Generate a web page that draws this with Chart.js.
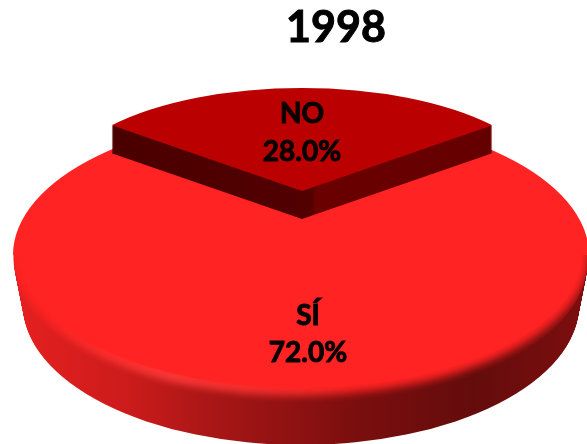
<!DOCTYPE html>
<html>
<head>
<meta charset="utf-8">
<title>1998</title>
<script src="https://cdn.jsdelivr.net/npm/chart.js@4"></script>
<style>
    html, body { margin: 0; padding: 0; background: #fff; overflow: hidden; }
    canvas { display: block; }
</style>
</head>
<body>
<canvas id="pieChart" width="587" height="444"></canvas>
<script>
// values
const chartTitle = '1998';
const categories = ['SÍ', 'NO'];
const percentages = [72.0, 28.0];

// the flattened "3D" look: where each slice sits on the page
const disc = { x: 301, y: 255, rx: 288, ry: 140, depth: 50, taper: 10 };
const wedge = { x: 302, y: 191, rx: 247, ry: 103, depth: 28 };
const labelFont = 'bold 28px Lato, sans-serif';

function drawSlice(ctx, arc, place, fill) {
    const saved = arc.options;
    arc.options = Object.assign({}, saved, { backgroundColor: fill, borderWidth: 0 });
    ctx.save();
    ctx.translate(place.x, place.y);
    ctx.scale(place.rx / arc.outerRadius, place.ry / arc.outerRadius);
    ctx.translate(-arc.x, -arc.y);
    arc.draw(ctx);
    ctx.restore();
    arc.options = saved;
}

function ellipsePath(ctx, x, y, rx, ry) {
    ctx.beginPath();
    ctx.ellipse(x, y, rx, ry, 0, 0, Math.PI * 2);
}

function drawBoldText(ctx, text, x, y, weight) {
    ctx.lineWidth = weight;
    ctx.fillText(text, x, y);
    ctx.strokeText(text, x, y);
}

function drawSliceLabel(ctx, name, value, x, y1, y2) {
    ctx.font = labelFont;
    ctx.fillStyle = '#0a0000';
    ctx.strokeStyle = '#0a0000';
    ctx.textAlign = 'center';
    ctx.textBaseline = 'middle';
    drawBoldText(ctx, name, x, y1, 1);
    drawBoldText(ctx, value.toFixed(1) + '%', x, y2, 1);
}

const pie3d = {
    id: 'pie3d',
    beforeDatasetDraw(chart) {
        const ctx = chart.ctx;
        const arcs = chart.getDatasetMeta(0).data;
        const top = '#ff2323';

        // body of the disc
        const side = ctx.createLinearGradient(13, 0, 589, 0);
        side.addColorStop(0, '#e62020');
        side.addColorStop(0.2, '#cc1b1b');
        side.addColorStop(0.35, '#a81616');
        side.addColorStop(0.6, '#7a0e0e');
        side.addColorStop(0.8, '#640c0c');
        side.addColorStop(1, '#7e0e0e');
        ctx.fillStyle = side;
        for (let d = disc.depth; d >= 4; d--) {
            ellipsePath(ctx, disc.x, disc.y + d, disc.rx - disc.taper * d / disc.depth, disc.ry);
            ctx.fill();
        }

        // soft bevel where the top face meets the body
        ctx.save();
        ctx.beginPath();
        ctx.ellipse(disc.x, disc.y, disc.rx, disc.ry, 0, 0, Math.PI * 2);
        ctx.ellipse(disc.x, disc.y + 8, disc.rx - 2, disc.ry, 0, 0, Math.PI * 2);
        ctx.clip();
        ctx.beginPath();
        ctx.rect(0, disc.y, 587, 189);
        ctx.clip();
        ctx.filter = 'blur(4px)';
        ctx.fillStyle = top;
        ellipsePath(ctx, disc.x, disc.y, disc.rx, disc.ry);
        ctx.fill();
        const shine = ctx.createLinearGradient(40, 0, 360, 0);
        shine.addColorStop(0, 'rgba(255,110,110,0)');
        shine.addColorStop(0.4, 'rgba(255,110,110,0.7)');
        shine.addColorStop(0.7, 'rgba(255,110,110,0.4)');
        shine.addColorStop(1, 'rgba(255,110,110,0)');
        ctx.strokeStyle = shine;
        ctx.lineWidth = 4;
        ellipsePath(ctx, disc.x, disc.y, disc.rx - 3, disc.ry - 3);
        ctx.stroke();
        ctx.restore();

        // crisp far half of the top face, under the pulled-out slice
        ctx.save();
        ctx.beginPath();
        ctx.rect(0, 0, 587, disc.y);
        ctx.clip();
        ctx.fillStyle = top;
        ellipsePath(ctx, disc.x, disc.y, disc.rx, disc.ry);
        ctx.fill();
        ctx.restore();

        // SÍ slice
        drawSlice(ctx, arcs[0], { x: disc.x, y: disc.y, rx: disc.rx - 7, ry: disc.ry - 7 }, top);

        // NO slice, raised
        for (let d = wedge.depth; d >= 1; d--) {
            const sideNo = ctx.createLinearGradient(112, 0, 492, 0);
            sideNo.addColorStop(0, '#4a0000');
            sideNo.addColorStop(0.5, '#520000');
            sideNo.addColorStop(0.51, '#6a0000');
            sideNo.addColorStop(1, '#640000');
            drawSlice(ctx, arcs[1], { x: wedge.x, y: wedge.y + d, rx: wedge.rx, ry: wedge.ry }, sideNo);
        }
        drawSlice(ctx, arcs[1], wedge, '#ba0000');

        // title and labels
        ctx.font = 'bold 43px Lato, sans-serif';
        ctx.fillStyle = '#000';
        ctx.strokeStyle = '#000';
        ctx.textAlign = 'center';
        ctx.textBaseline = 'middle';
        drawBoldText(ctx, chartTitle, 336, 28, 1);
        drawSliceLabel(ctx, categories[1], percentages[1], 302, 114, 152);
        drawSliceLabel(ctx, categories[0], percentages[0], 308, 316, 353);

        return false;
    }
};

new Chart(document.getElementById('pieChart').getContext('2d'), {
    type: 'pie',
    data: {
        labels: categories,
        datasets: [{
            data: percentages,
            backgroundColor: ['#ff2323', '#ba0000'],
            borderWidth: 0
        }]
    },
    options: {
        responsive: false,
        animation: false,
        // keep the NO slice centred at the back
        rotation: percentages[1] / 100 * 180,
        plugins: {
            legend: { display: false },
            tooltip: { enabled: false }
        }
    },
    plugins: [pie3d]
});
</script>
</body>
</html>
